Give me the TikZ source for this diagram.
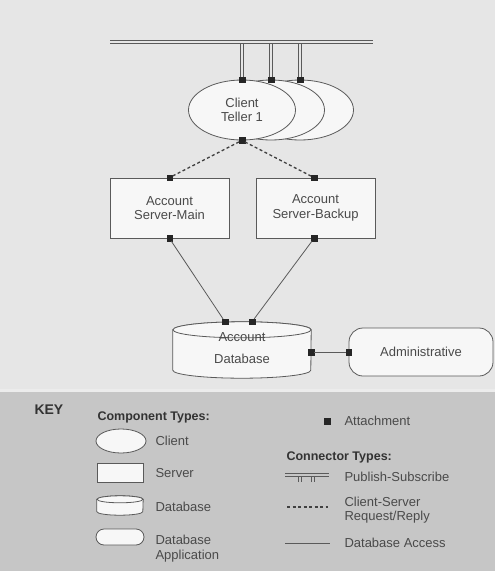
\documentclass[tikz,border=0pt]{standalone}
\usepackage{fontspec}
\setmainfont{Liberation Sans}
\usetikzlibrary{shapes.geometric}
% cylinder drawn round an (empty) node: node, x radius, y radius
\newcommand{\cylinderof}[3]{%
  \filldraw[dbline] ([yshift=-#3]#1.north west) -- ([yshift=#3]#1.south west)
    arc[start angle=180,end angle=0,x radius=#2,y radius=#3]
    -- ([yshift=-#3]#1.north east)
    arc[start angle=0,end angle=-180,x radius=#2,y radius=#3] -- cycle;
  \draw[dbline] ([yshift=-#3]#1.north) ellipse [x radius=#2,y radius=#3];}

\begin{document}
\begin{tikzpicture}[x=1pt,y=-1pt,
  txt/.style={text=textgray,font=\fontsize{13}{14.5}\selectfont},
  client/.style={ellipse,draw=linegray,fill=boxwhite,line width=0.8,minimum width=107,minimum height=60,inner sep=0pt,align=center,txt},
  server/.style={rectangle,draw=linegray,fill=boxwhite,line width=0.8,minimum width=119,minimum height=60,align=center,txt},
  dbbox/.style={rectangle,draw=none,minimum width=138,minimum height=56,inner sep=0pt},
  dbline/.style={draw=linegray,fill=boxwhite,line width=0.8},
  dbapp/.style={rectangle,rounded corners=14,draw=linegray,fill=boxwhite,line width=0.8,minimum width=144,minimum height=48,txt},
  attach/.style={rectangle,fill=black!85,draw=black!85,minimum size=5.5,inner sep=0pt},
  pubsub/.style={draw=linegray,line width=1.1,double=topgray,double distance=2.6},
  reqreply/.style={draw=black!75,line width=1.3,dash pattern=on 3 off 2.5},
  dbaccess/.style={draw=linegray,line width=0.8},
  keyhead/.style={text=black!80,font=\fontsize{12.5}{14}\selectfont\bfseries,anchor=west},
  keytext/.style={txt,anchor=west,align=left}]
\definecolor{topgray}{HTML}{E6E6E6}
\definecolor{keygray}{HTML}{C6C6C6}
\definecolor{boxwhite}{HTML}{F7F7F7}
\definecolor{linegray}{HTML}{5A5A5A}
\definecolor{textgray}{HTML}{4A4A4A}
% background
\fill[topgray] (0,0) rectangle (495,389);
\fill[white!85!gray] (0,389) rectangle (495,392);
\fill[keygray] (0,392) rectangle (495,571);
\useasboundingbox (0,0) rectangle (495,571);

% clients on the bus
\coordinate (busW) at (110,42);
\coordinate (busE) at (373,42);
\foreach \nm/\xc in {client3/300,client2/271}
  {  \node [client] (\nm) at (\xc,110) {};}
\node [client] (client1) at (242,110) {Client\\Teller 1};
\foreach \nm in {client1,client2,client3}
  {  \draw [pubsub] (\nm.north) -- (\nm.north |- busW);}
\draw [pubsub] (busW) -- (busE);
\foreach \nm in {client1,client2,client3}
  {  \node [attach] (\nm-pub) at (\nm.north) {};}
\node [attach] (client1-cs) at (client1.south) {};

% servers
\node [server] (main) at (169.5,208) {Account\\Server-Main};
\node [server] (backup) at (315.5,208) {Account\\Server-Backup};
\node [attach] (main-cs) at (main.north) {};
\node [attach] (backup-cs) at ([xshift=-1.5]backup.north) {};
\node [attach] (main-db) at (main.south) {};
\node [attach] (backup-db) at ([xshift=-1.5]backup.south) {};
\draw [reqreply] (client1-cs) -- (main-cs);
\draw [reqreply] (client1-cs) -- (backup-cs);

% database and administrative
\node [dbbox] (db) at (242,350) {};
\cylinderof{db}{69}{8}
\node [txt,align=center] (db-text) at ([yshift=2]db.center) {Account\\[7pt]Database};
\node [dbapp] (admin) at (421,352) {Administrative};
\node [attach] (db-main) at ([xshift=-17]db.north) {};
\node [attach] (db-backup) at ([xshift=10]db.north) {};
\node [attach] (db-adm) at ([yshift=-2]db.east) {};
\node [attach] (adm-db) at (admin.west) {};
\draw [dbaccess] (main-db) -- (db-main);
\draw [dbaccess] (backup-db) -- (db-backup);
\draw [dbaccess] (db-adm) -- (adm-db);

% key
\node [keyhead,font=\fontsize{14}{16}\selectfont\bfseries] (key) at (31,410) {KEY};
\node [keyhead] (comptypes) at (94,417) {Component Types:};
\node [client,minimum width=50,minimum height=24] (kclient) at (121,441) {};
\node [keytext] (kclient-lbl) at (152,441) {Client};
\node [server,minimum width=46,minimum height=19] (kserver) at (120,472.5) {};
\node [keytext] (kserver-lbl) at (152,473) {Server};
\node [dbbox,minimum width=46,minimum height=19] (kdb) at (120,505.5) {};
\cylinderof{kdb}{23}{3.5}
\node [keytext] (kdb-lbl) at (152,507) {Database};
\node [dbapp,minimum width=48,minimum height=16,rounded corners=8] (kdbapp) at (120,537) {};
\node [keytext] (kdbapp-lbl) at (152,548.5) {Database\\Application};

\node [attach] (kattach) at (327,421) {};
\node [keytext] (kattach-lbl) at (341,421) {Attachment};
\node [keyhead] (conntypes) at (283,457) {Connector Types:};
\coordinate (kps-w) at (285,475);
\coordinate (kps-e) at (329,475);
\foreach \xs in {300,313}
  {  \draw [pubsub,line width=0.8,double=keygray,double distance=2] (\xs,482) -- (\xs,475);}
\draw [pubsub,line width=0.8,double=keygray,double distance=2] (kps-w) -- (kps-e);
\node [keytext] (kps-lbl) at (341,477) {Publish-Subscribe};
\coordinate (krr-w) at (287,507);
\coordinate (krr-e) at (328,507);
\draw [reqreply,line width=1.1] (krr-w) -- (krr-e);
\node [keytext] (krr-lbl) at (341,510) {Client-Server\\Request/Reply};
\coordinate (kda-w) at (285,543);
\coordinate (kda-e) at (330,543);
\draw [dbaccess] (kda-w) -- (kda-e);
\node [keytext] (kda-lbl) at (341,543) {Database Access};
\end{tikzpicture}
\end{document}
